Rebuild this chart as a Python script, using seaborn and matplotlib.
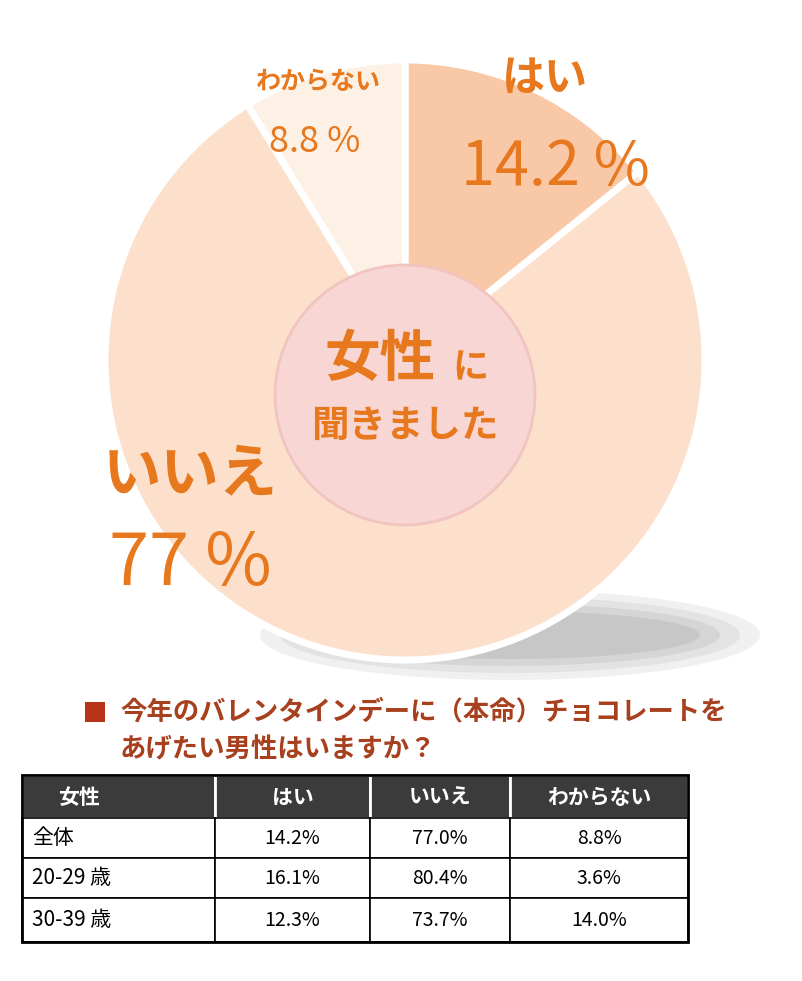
import matplotlib
matplotlib.use("Agg")
import matplotlib.pyplot as plt
import seaborn as sns
from matplotlib.patches import Circle, Ellipse, Rectangle

sns.set_theme(style="white")
plt.rcParams['font.family'] = ['Noto Sans CJK JP']

# データ
answers = ['はい', 'いいえ', 'わからない']
shares = [14.2, 77.0, 8.8]
pie_colors = ['#F9C8A6', '#FCE0CC', '#FDF0E5']

table_header = ['女性', 'はい', 'いいえ', 'わからない']
row_labels = ['全体', '20-29 歳', '30-39 歳']
yes_vals = ['14.2%', '16.1%', '12.3%']
no_vals = ['77.0%', '80.4%', '73.7%']
unknown_vals = ['8.8%', '3.6%', '14.0%']

W, H = 802, 981
def Y(p):
    return H - p

fig = plt.figure(figsize=(W / 100, H / 100), dpi=100)
ax = fig.add_axes([0, 0, 1, 1])
ax.set_xlim(0, W)
ax.set_ylim(0, H)
ax.set_aspect('equal')
ax.axis('off')

orange = '#E8781E'

# 影（ぼかし風に重ねる）
for k, a in enumerate([0.12, 0.12, 0.15, 0.18]):
    ax.add_patch(Ellipse((510, Y(635)), 500 - k * 40, 90 - k * 14, color='#8a8a8a', alpha=a, lw=0))
ax.add_patch(Ellipse((665, Y(320)), 40, 14, color='#9a9a9a', alpha=0.35, lw=0))

# 円グラフ
ax.pie(shares, colors=pie_colors, startangle=90, counterclock=False,
       center=(405, Y(360)), radius=300, explode=[0.02, 0.0, 0.02],
       wedgeprops=dict(edgecolor='white', linewidth=5), frame=True)
ax.set_xlim(0, W)
ax.set_ylim(0, H)
ax.axis('off')

# 中央の円
ax.add_patch(Circle((405, Y(395)), 130, facecolor='#F7D6D4', edgecolor='#F2C4C0', lw=2, zorder=5))
ax.text(380, Y(360), '女性', fontsize=40, fontweight='bold', color=orange, ha='center', va='center', zorder=6)
ax.text(470, Y(368), 'に', fontsize=26, fontweight='bold', color=orange, ha='center', va='center', zorder=6)
ax.text(405, Y(425), '聞きました', fontsize=27, fontweight='bold', color=orange, ha='center', va='center', zorder=6)

# ラベル
ax.text(545, Y(78), answers[0], fontsize=31, fontweight='bold', color=orange, ha='center', va='center')
ax.text(555, Y(168), f'{shares[0]} %', fontsize=44, color=orange, ha='center', va='center')
ax.text(318, Y(82), answers[2], fontsize=18, fontweight='bold', color=orange, ha='center', va='center')
ax.text(315, Y(142), f'{shares[2]} %', fontsize=26, color=orange, ha='center', va='center')
ax.text(190, Y(475), answers[1], fontsize=42, fontweight='bold', color=orange, ha='center', va='center')
ax.text(190, Y(565), f'{shares[1]:.0f} %', fontsize=52, color=orange, ha='center', va='center')

# タイトル
ax.add_patch(Rectangle((85, Y(722)), 20, 20, color='#B8321A', lw=0))
ax.text(120, Y(712), '今年のバレンタインデーに（本命）チョコレートを', fontsize=19,
        fontweight='bold', color='#A8401E', ha='left', va='center')
ax.text(120, Y(750), 'あげたい男性はいますか？', fontsize=19,
        fontweight='bold', color='#A8401E', ha='left', va='center')

# 表
col_x = [22, 215, 370, 510, 688]
row_y = [775, 818, 858, 898, 942]
for j, h in enumerate(table_header):
    ax.add_patch(Rectangle((col_x[j], Y(row_y[1])), col_x[j + 1] - col_x[j], row_y[1] - row_y[0],
                           facecolor='#3b3b3b', edgecolor='white', lw=2))
    if j == 0:
        ax.text(58, Y(797), h, fontsize=15, fontweight='bold', color='white', ha='left', va='center')
    else:
        ax.text((col_x[j] + col_x[j + 1]) / 2, Y(797), h, fontsize=15, fontweight='bold',
                color='white', ha='center', va='center')

rows = list(zip(row_labels, yes_vals, no_vals, unknown_vals))
for i, row in enumerate(rows):
    y0, y1 = row_y[i + 1], row_y[i + 2]
    for j, val in enumerate(row):
        ax.add_patch(Rectangle((col_x[j], Y(y1)), col_x[j + 1] - col_x[j], y1 - y0,
                               facecolor='white', edgecolor='black', lw=1.2))
        yc = Y((y0 + y1) / 2)
        if j == 0:
            ax.text(32, yc, val, fontsize=15, color='black', ha='left', va='center')
        else:
            ax.text((col_x[j] + col_x[j + 1]) / 2, yc, val, fontsize=14, color='black', ha='center', va='center')
ax.add_patch(Rectangle((col_x[0], Y(row_y[-1])), col_x[-1] - col_x[0], row_y[-1] - row_y[0],
                       fill=False, edgecolor='black', lw=2))

fig.savefig('out.png', dpi=100)
